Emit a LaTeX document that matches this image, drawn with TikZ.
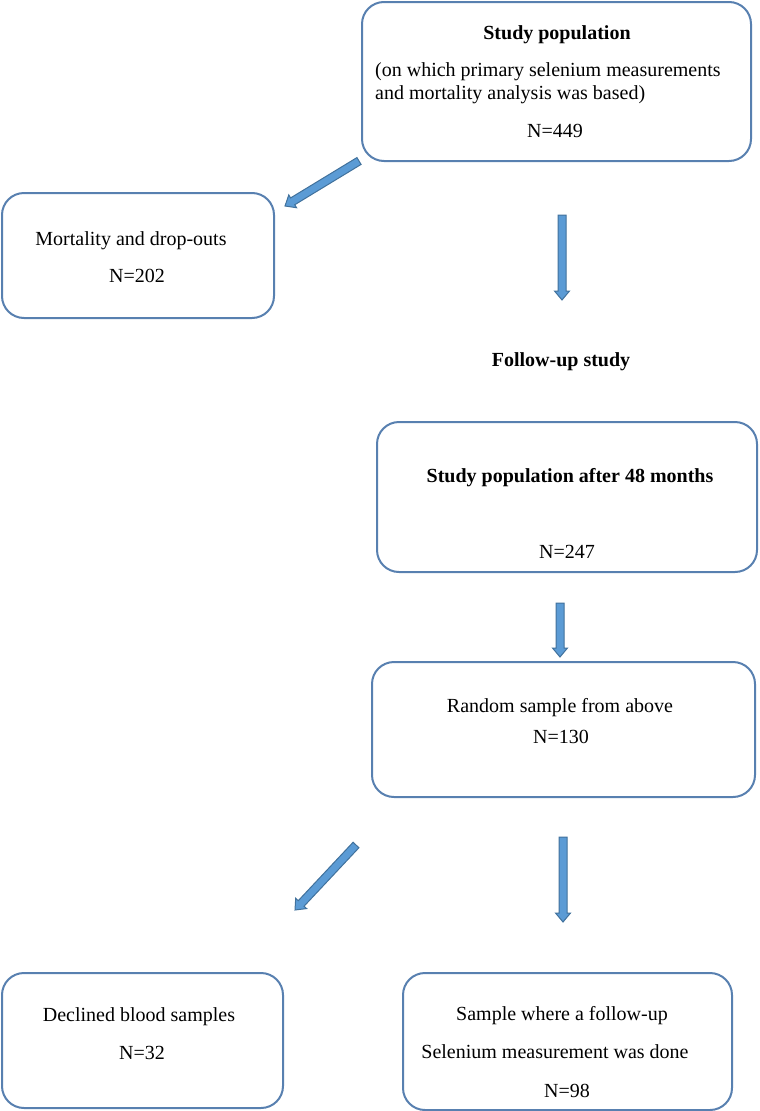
\documentclass[tikz,border=0pt]{standalone}
\usepackage{fontspec}
\setmainfont{Liberation Serif}
\usetikzlibrary{calc}
\definecolor{boxline}{RGB}{88,128,176}
\definecolor{arrfill}{RGB}{91,155,213}
\definecolor{arredge}{RGB}{65,113,156}
\newcommand{\blockarrow}[3]{%
  \coordinate (#3h) at ($(#2)!9pt!(#1)$);
  \filldraw[barrow] ($(#1)!4pt!90:(#2)$) -- ($(#3h)!4pt!90:(#2)$) -- ($(#3h)!7.5pt!90:(#2)$) -- (#2)
    -- ($(#3h)!7.5pt!-90:(#2)$) -- ($(#3h)!4pt!-90:(#2)$) -- ($(#1)!4pt!-90:(#2)$) -- cycle;}
\begin{document}
\begin{tikzpicture}[x=1pt,y=-1pt,
  box/.style={draw=boxline, line width=2pt, rounded corners=22pt, rectangle, inner sep=0pt},
  txt/.style={anchor=base, inner sep=0pt, font=\fontsize{20}{24}\selectfont},
  btxt/.style={txt, font=\fontsize{20}{24}\selectfont\bfseries},
  barrow/.style={draw=arredge, fill=arrfill, line width=1pt, line join=miter}]
\useasboundingbox (0,0) rectangle (760,1111);
% boxes
\node[box, minimum width=389pt, minimum height=159pt] (b1) at (556.5,81.5) {};
\node[box, minimum width=272pt, minimum height=125pt] (b2) at (138,255.5) {};
\node[box, minimum width=380pt, minimum height=150pt] (b3) at (567,497) {};
\node[box, minimum width=383pt, minimum height=135pt] (b4) at (563.5,729.5) {};
\node[box, minimum width=281pt, minimum height=135pt] (b5) at (142.5,1040.5) {};
\node[box, minimum width=329pt, minimum height=137pt] (b6) at (567.5,1041.5) {};
% texts
\node[btxt] (t1a) at (557,39) {Study population};
\node[txt, anchor=base west] (t1b) at (375,76) {(on which primary selenium measurements};
\node[txt, anchor=base west] (t1c) at (375,99) {and mortality analysis was based)};
\node[txt] (t1d) at (555,137) {N=449};
\node[txt] (t2a) at (131,245) {Mortality and drop-outs};
\node[txt] (t2b) at (137,282) {N=202};
\node[btxt] (fu) at (561,366) {Follow-up study};
\node[btxt] (t3a) at (570,482) {Study population after 48 months};
\node[txt] (t3b) at (567,558) {N=247};
\node[txt] (t4a) at (560,712) {Random sample from above};
\node[txt] (t4b) at (561,743) {N=130};
\node[txt] (t5a) at (139,1021) {Declined blood samples};
\node[txt] (t5b) at (142,1059) {N=32};
\node[txt] (t6a) at (562,1020) {Sample where a follow-up};
\node[txt] (t6b) at (555,1058) {Selenium measurement was done};
\node[txt] (t6c) at (567,1097) {N=98};
% arrows
\coordinate (a1s) at (359,161); \coordinate (a1e) at (285,206);
\coordinate (a2s) at (562,215); \coordinate (a2e) at (562,300);
\coordinate (a3s) at (560,603); \coordinate (a3e) at (560,657);
\coordinate (a4s) at (356,845); \coordinate (a4e) at (295,910);
\coordinate (a5s) at (563,837); \coordinate (a5e) at (563,922);
\blockarrow{a1s}{a1e}{a1}
\blockarrow{a2s}{a2e}{a2}
\blockarrow{a3s}{a3e}{a3}
\blockarrow{a4s}{a4e}{a4}
\blockarrow{a5s}{a5e}{a5}
\end{tikzpicture}
\end{document}
